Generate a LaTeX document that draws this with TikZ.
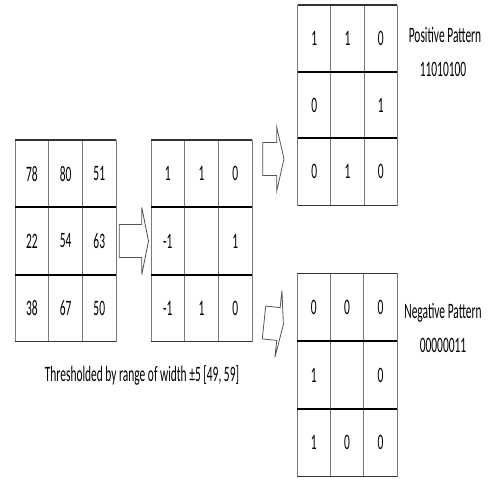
\documentclass[tikz,border=0pt]{standalone}
\usepackage{fontspec}
\setmainfont{Carlito}
\usetikzlibrary{positioning}
\definecolor{cellgray}{HTML}{7A7A7A}
\definecolor{edgedark}{HTML}{333333}
\definecolor{arrowgray}{HTML}{555555}
\newcommand\squeeze[1]{\scalebox{0.52}[1]{#1}}
% one 3x3 block: name, left, top, cell width, row height, values
\newcommand\drawgrid[6]{%
  \foreach \v [count=\k from 0] in {#6} {
    \pgfmathtruncatemacro\r{div(\k,3)+1}
    \pgfmathtruncatemacro\c{mod(\k,3)+1}
    \node[cell, minimum width=#4pt, minimum height=#5pt] (#1-\r-\c) at ({#2+(\c-0.5)*#4}, {#3+(\r-0.5)*#5}) {\squeeze{\v}};
  }
  \foreach \r in {1,2}
    \draw[rowsep] (#1-\r-1.south west) -- (#1-\r-3.south east);
  \draw[edge] (#1-1-1.north west) -- (#1-1-3.north east);
  \draw[edge] (#1-3-1.south west) -- (#1-3-3.south east);
}
\tikzset{
  cell/.style={draw=cellgray, line width=0.9pt, inner sep=0pt, outer sep=0pt, font=\fontsize{22}{26}\selectfont},
  rowsep/.style={draw=black, line width=2pt},
  edge/.style={draw=edgedark, line width=1.1pt},
  hollow/.style={draw=arrowgray, line width=0.8pt, line join=miter},
  label/.style={font=\fontsize{22}{26}\selectfont, inner sep=0pt}
}

\begin{document}
\begin{tikzpicture}[x=1pt, y=-1pt]
  \useasboundingbox (0,0) rectangle (488,481);

  % source pixels and thresholded codes
  \drawgrid{src}{15}{140}{33.7}{67.3}{78,80,51,22,54,63,38,67,50}
  \drawgrid{thr}{151}{140}{33.7}{67.3}{1,1,0,-1,{},1,-1,1,0}

  % split into the two binary patterns
  \drawgrid{pos}{297.5}{5}{33.3}{66.7}{1,1,0,0,{},1,0,1,0}
  \drawgrid{neg}{297}{273.3}{33.4}{67.8}{0,0,0,1,{},0,1,0,0}

  % hollow block arrows
  \foreach \tx/\ty/\sl/\hl/\hh/\rot in {119.3/241/22.5/6.7/33.5/0, 262.7/159/14/7.3/32/0, 264/322.5/14.5/5/33.5/-6}
    \draw[hollow, shift={(\tx,\ty)}, rotate=\rot]
      (0,-16.5) -- (\sl,-16.5) -- (\sl,-\hh) -- (\sl+\hl,0) -- (\sl,\hh) -- (\sl,16.5) -- (0,16.5) -- cycle;

  \node[label] (poslabel) at (445,35) {\squeeze{Positive Pattern}};
  \node[label] (poscode) at (443,69) {\squeeze{11010100}};
  \node[label] (neglabel) at (443,313) {\squeeze{Negative Pattern}};
  \node[label] (negcode) at (443,345) {\squeeze{00000011}};
  \node[label] (caption) at (142,375) {\squeeze{Thresholded by range of width ±5 [49, 59]}};
\end{tikzpicture}
\end{document}
